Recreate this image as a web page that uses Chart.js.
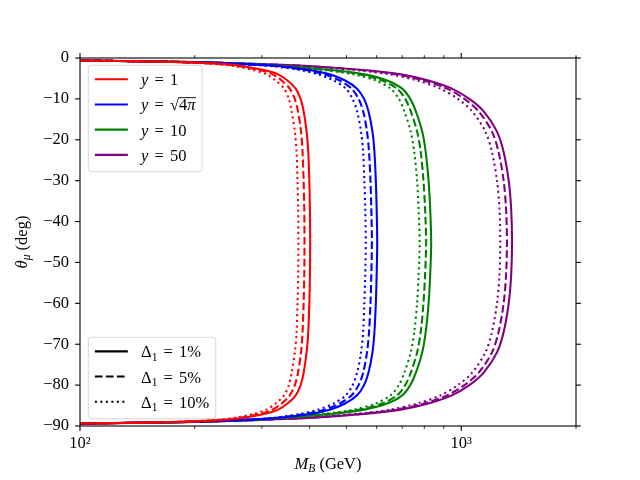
<!DOCTYPE html>
<html>
<head>
<meta charset="utf-8">
<script src="https://cdn.jsdelivr.net/npm/chart.js@4.4.0/dist/chart.umd.min.js"></script>
<style>
  html, body { margin: 0; padding: 0; background: #fff; }
  canvas { display: block; }
</style>
</head>
<body>
<canvas id="Chart" width="640" height="480"></canvas>
<script>
// mixing angle theta_mu (deg), shared by every curve
var theta = [-0.35, -0.6, -1, -1.5, -2, -3, -4, -5.5, -7.5, -10, -13, -18, -23, -30, -37, -45,
  -53, -60, -67, -72, -77, -80, -82.5, -84.5, -86, -87, -88, -88.5, -89, -89.4, -89.65];

// M_B (GeV) along theta, y = 1
var mY1D1 = [60, 100, 185, 238, 268, 306, 331, 350, 368, 379, 386, 393, 397, 399.5, 401, 401.6,
  401, 399.5, 397, 393, 386, 379, 368, 350, 331, 306, 268, 238, 185, 100, 60];
var mY1D5 = [60, 100, 183, 234, 262, 297, 320, 338, 355, 366, 373, 380, 383.5, 386, 387.5, 388,
  387.5, 386, 383.5, 380, 373, 366, 355, 338, 320, 297, 262, 234, 183, 100, 60];
var mY1D10 = [60, 99, 180, 229, 255, 286, 308, 326, 343, 353, 359, 366, 370, 372, 373.5, 374,
  373.5, 372, 370, 366, 359, 353, 343, 326, 308, 286, 255, 229, 180, 99, 60];

// y = sqrt(4 pi)
var mY4piD1 = [60, 100, 192, 272, 335, 404, 452, 496, 533, 556, 571, 585, 592, 597, 600, 602,
  600, 597, 592, 585, 571, 556, 533, 496, 452, 404, 335, 272, 192, 100, 60];
var mY4piD5 = [60, 100, 190, 268, 328, 393, 438, 480, 516, 538, 553, 566, 573, 578, 581, 583,
  581, 578, 573, 566, 553, 538, 516, 480, 438, 393, 328, 268, 190, 100, 60];
var mY4piD10 = [60, 99, 188, 263, 320, 380, 421, 463, 498, 519, 533, 546, 553, 557, 560, 562,
  560, 557, 553, 546, 533, 519, 498, 463, 421, 380, 320, 263, 188, 99, 60];

// y = 10
var mY10D1 = [60, 100, 195, 280, 345, 465, 557, 639, 700, 735, 760, 790, 807, 821, 829, 834,
  829, 821, 807, 790, 760, 735, 700, 639, 557, 465, 345, 280, 195, 100, 60];
var mY10D5 = [60, 100, 194, 277, 338, 453, 541, 620, 679, 713, 737, 766, 783, 796, 804, 809,
  804, 796, 783, 766, 737, 713, 679, 620, 541, 453, 338, 277, 194, 100, 60];
var mY10D10 = [60, 99, 192, 273, 330, 439, 522, 596, 653, 686, 709, 737, 753, 766, 773, 778,
  773, 766, 753, 737, 709, 686, 653, 596, 522, 439, 330, 273, 192, 99, 60];

// y = 50
var mY50D1 = [60, 100, 200, 300, 405, 565, 694, 820, 945, 1050, 1144, 1241, 1292, 1332, 1352, 1359,
  1352, 1332, 1292, 1241, 1144, 1050, 945, 820, 694, 565, 405, 300, 200, 100, 60];
var mY50D5 = [60, 100, 199, 297, 398, 552, 676, 798, 918, 1019, 1110, 1204, 1253, 1292, 1311, 1318,
  1311, 1292, 1253, 1204, 1110, 1019, 918, 798, 676, 552, 398, 297, 199, 100, 60];
var mY50D10 = [60, 99, 197, 292, 390, 535, 650, 767, 882, 980, 1067, 1157, 1204, 1241, 1260, 1266,
  1260, 1241, 1204, 1157, 1067, 980, 882, 767, 650, 535, 390, 292, 197, 99, 60];

var xMajorTicks = [100, 1000];
var xMinorTicks = [200, 300, 400, 500, 600, 700, 800, 900, 2000];
var xTickLabels = ['10\u00b2', '10\u00b3'];
var yTicks = [0, -10, -20, -30, -40, -50, -60, -70, -80, -90];

var serif = '"Liberation Serif", "DejaVu Serif", serif';
var fs = 16.5;

var red = '#ff0000', blue = '#0000ff', green = '#008000', purple = '#800080';
var solid = [], dashed = [7.7, 3.3], dotted = [2.1, 3.4];

var curves = [
  [mY1D1, red, solid], [mY1D5, red, dashed], [mY1D10, red, dotted],
  [mY4piD1, blue, solid], [mY4piD5, blue, dashed], [mY4piD10, blue, dotted],
  [mY10D1, green, solid], [mY10D5, green, dashed], [mY10D10, green, dotted],
  [mY50D1, purple, solid], [mY50D5, purple, dashed], [mY50D10, purple, dotted]
];

// sp = extra space in em (math spacing around "=")
var colorLegend = [
  { color: red, dash: solid, parts: [{ t: 'y', it: true }, { sp: 0.12 }, { t: ' = ' }, { sp: 0.12 }, { t: '1' }] },
  { color: blue, dash: solid, parts: [{ t: 'y', it: true }, { sp: 0.12 }, { t: ' = ' }, { sp: 0.12 }, { t: '\u221a' }, { t: '4', over: true }, { t: '\u03c0', it: true, over: true }] },
  { color: green, dash: solid, parts: [{ t: 'y', it: true }, { sp: 0.12 }, { t: ' = ' }, { sp: 0.12 }, { t: '10' }] },
  { color: purple, dash: solid, parts: [{ t: 'y', it: true }, { sp: 0.12 }, { t: ' = ' }, { sp: 0.12 }, { t: '50' }] }
];
var styleLegend = [
  { color: '#000', dash: solid, parts: [{ t: '\u0394' }, { t: '1', sub: true }, { sp: 0.12 }, { t: ' = ' }, { sp: 0.12 }, { t: '1%' }] },
  { color: '#000', dash: dashed, parts: [{ t: '\u0394' }, { t: '1', sub: true }, { sp: 0.12 }, { t: ' = ' }, { sp: 0.12 }, { t: '5%' }] },
  { color: '#000', dash: dotted, parts: [{ t: '\u0394' }, { t: '1', sub: true }, { sp: 0.12 }, { t: ' = ' }, { sp: 0.12 }, { t: '10%' }] }
];

function fontFor(p, size) {
  var s = p.sub ? size * 0.7 : size;
  return (p.it ? 'italic ' : '') + s + 'px ' + serif;
}

function partWidth(ctx, p, size) {
  if (p.sp) return p.sp * size;
  ctx.font = fontFor(p, size);
  return ctx.measureText(p.t).width;
}

function richWidth(ctx, parts, size) {
  var w = 0;
  parts.forEach(function (p) { w += partWidth(ctx, p, size); });
  return w;
}

function drawRich(ctx, parts, x, y, size) {
  var cx = x;
  parts.forEach(function (p) {
    var w = partWidth(ctx, p, size);
    if (!p.sp) {
      ctx.font = fontFor(p, size);
      ctx.fillText(p.t, cx, p.sub ? y + size * 0.2 : y);
      if (p.over) {
        ctx.fillRect(cx - 0.5, y - size * 0.8, w + 1, size * 0.055);
      }
    }
    cx += w;
  });
  return cx - x;
}

function seg(ctx, x1, y1, x2, y2) {
  ctx.beginPath();
  ctx.moveTo(x1, y1);
  ctx.lineTo(x2, y2);
  ctx.stroke();
}

function drawLegend(ctx, items, left, top) {
  var pad = 0.4 * fs, handle = 2 * fs, gap = 0.8 * fs, step = 25.2;
  var w = 0;
  items.forEach(function (it) { w = Math.max(w, richWidth(ctx, it.parts, fs)); });
  var bw = pad + handle + gap + w + pad;
  var bh = 14 + (items.length - 1) * step + 17;
  var r = 3;
  ctx.save();
  ctx.beginPath();
  ctx.moveTo(left + r, top);
  ctx.arcTo(left + bw, top, left + bw, top + bh, r);
  ctx.arcTo(left + bw, top + bh, left, top + bh, r);
  ctx.arcTo(left, top + bh, left, top, r);
  ctx.arcTo(left, top, left + bw, top, r);
  ctx.closePath();
  ctx.fillStyle = 'rgba(255,255,255,0.8)';
  ctx.fill();
  ctx.strokeStyle = 'rgba(204,204,204,0.8)';
  ctx.lineWidth = 1;
  ctx.stroke();
  items.forEach(function (it, i) {
    var ly = top + 14 + i * step;
    ctx.strokeStyle = it.color;
    ctx.lineWidth = 2.08;
    ctx.lineCap = 'butt';
    ctx.setLineDash(it.dash);
    seg(ctx, left + pad, ly, left + pad + handle, ly);
    ctx.setLineDash([]);
    ctx.fillStyle = '#000';
    ctx.textBaseline = 'alphabetic';
    ctx.textAlign = 'left';
    drawRich(ctx, it.parts, left + pad + handle + gap, ly + 6, fs);
  });
  ctx.restore();
  return bh;
}

var decorations = {
  id: 'decorations',
  afterDraw: function (chart) {
    var ctx = chart.ctx, a = chart.chartArea;
    var xs = chart.scales.x, ys = chart.scales.y;
    ctx.save();
    ctx.strokeStyle = '#000';
    ctx.setLineDash([]);

    // frame
    ctx.lineWidth = 1.1;
    ctx.strokeRect(a.left, a.top, a.right - a.left, a.bottom - a.top);

    // tick marks, outward on all four sides
    xMajorTicks.forEach(function (v) {
      var px = xs.getPixelForValue(v);
      seg(ctx, px, a.bottom, px, a.bottom + 4.9);
      seg(ctx, px, a.top, px, a.top - 4.9);
    });
    ctx.lineWidth = 0.85;
    xMinorTicks.forEach(function (v) {
      var px = xs.getPixelForValue(v);
      seg(ctx, px, a.bottom, px, a.bottom + 2.8);
      seg(ctx, px, a.top, px, a.top - 2.8);
    });
    ctx.lineWidth = 1.1;
    yTicks.forEach(function (v) {
      var py = ys.getPixelForValue(v);
      seg(ctx, a.left - 4.9, py, a.left, py);
      seg(ctx, a.right, py, a.right + 4.9, py);
    });

    // axis titles
    ctx.fillStyle = '#000';
    ctx.textBaseline = 'alphabetic';
    ctx.textAlign = 'left';
    var xt = [{ t: 'M', it: true }, { t: 'B', it: true, sub: true }, { t: ' (GeV)' }];
    var wx = richWidth(ctx, xt, fs);
    drawRich(ctx, xt, (a.left + a.right) / 2 - wx / 2, 469, fs);

    var yt = [{ t: '\u03b8', it: true }, { t: '\u03bc', it: true, sub: true }, { t: ' (deg)' }];
    var wy = richWidth(ctx, yt, fs);
    ctx.save();
    ctx.translate(27, (a.top + a.bottom) / 2);
    ctx.rotate(-Math.PI / 2);
    drawRich(ctx, yt, -wy / 2, 0, fs);
    ctx.restore();

    // the two legends
    var off = 0.5 * fs;
    drawLegend(ctx, colorLegend, a.left + off, a.top + off - 1);
    var bh = 14 + (styleLegend.length - 1) * 25.2 + 17;
    drawLegend(ctx, styleLegend, a.left + off, a.bottom - off - bh + 1);
    ctx.restore();
  }
};

var ctx = document.getElementById('Chart').getContext('2d');
var myChart = new Chart(ctx, {
  type: 'scatter',
  data: {
    datasets: curves.map(function (c) {
      return {
        data: theta.map(function (t, i) { return { x: c[0][i], y: t }; }),
        showLine: true,
        borderColor: c[1],
        backgroundColor: c[1],
        borderWidth: 2.08,
        borderDash: c[2],
        borderCapStyle: 'butt',
        pointRadius: 0,
        pointHoverRadius: 0,
        tension: 0.3,
        clip: 0
      };
    })
  },
  options: {
    responsive: false,
    animation: false,
    devicePixelRatio: 1,
    layout: { padding: { left: 0, right: 64, top: 58, bottom: 0 } },
    plugins: { legend: { display: false }, tooltip: { enabled: false } },
    scales: {
      x: {
        type: 'logarithmic',
        min: 100,
        max: 2000,
        grid: { display: false, drawTicks: false, tickLength: 0 },
        border: { display: false },
        afterBuildTicks: function (scale) {
          scale.ticks = xMajorTicks.map(function (v) { return { value: v }; });
        },
        afterFit: function (scale) { scale.height = 54; },
        ticks: {
          autoSkip: false,
          maxRotation: 0,
          padding: 8,
          color: '#000',
          font: { family: serif, size: fs },
          callback: function (value) {
            var i = xMajorTicks.indexOf(value);
            return i >= 0 ? xTickLabels[i] : '';
          }
        }
      },
      y: {
        type: 'linear',
        min: -90,
        max: 0,
        grid: { display: false, drawTicks: false, tickLength: 0 },
        border: { display: false },
        afterBuildTicks: function (scale) {
          scale.ticks = yTicks.map(function (v) { return { value: v }; });
        },
        afterFit: function (scale) { scale.width = 80; },
        ticks: {
          padding: 11,
          color: '#000',
          font: { family: serif, size: fs },
          callback: function (value) {
            return value === 0 ? '0' : '\u2212' + Math.abs(value);
          }
        }
      }
    }
  },
  plugins: [decorations]
});
</script>
</body>
</html>
